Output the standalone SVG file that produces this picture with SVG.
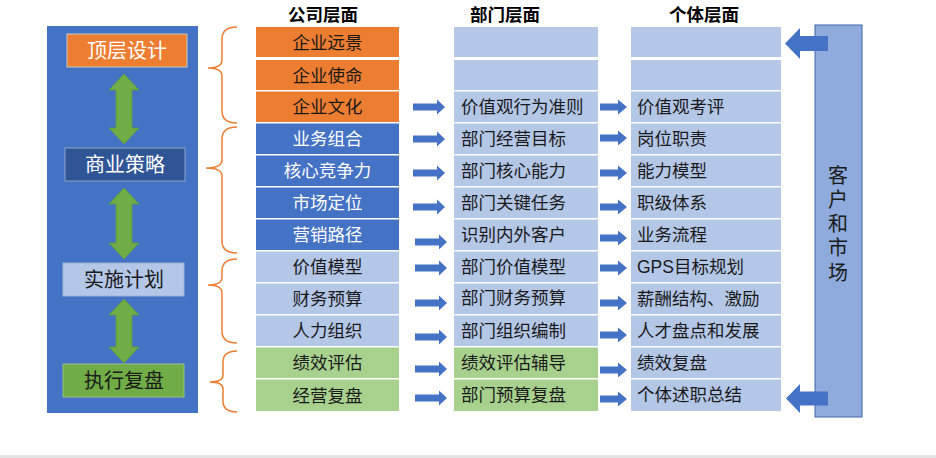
<svg xmlns="http://www.w3.org/2000/svg" xmlns:xlink="http://www.w3.org/1999/xlink" width="936" height="458" viewBox="0 0 936 458">
<style>
text{font-family:"Liberation Sans","Noto Sans CJK SC",sans-serif;}
.t{font-size:17.5px;fill:#1a1a1a;}
.tw{font-size:17.5px;fill:#ffffff;}
.c{text-anchor:middle;}
.h{font-size:17.5px;font-weight:bold;fill:#000;text-anchor:middle;}
.L{font-size:20px;text-anchor:middle;}
.or{fill:#ED7D31;}
.bl{fill:#4472C4;}
.lb{fill:#B4C7E7;}
.gr{fill:#A9D18E;}
.brace{fill:none;stroke:#ED7D31;stroke-width:1.5;}
.ga{fill:#70AD47;stroke:#5E9A3A;stroke-width:0.8;}
.ba{fill:#4472C4;}
</style>
<defs>
<path id="a1" d="M0 -3.5 H24 V-7.5 L32 0 L24 7.5 V3.5 H0 Z"/>
<path id="a2" d="M0 -3.5 H18 V-7.5 L27 0 L18 7.5 V3.5 H0 Z"/>
</defs>
<rect x="0" y="455" width="936" height="3" fill="#E3E3E3"/>

<g id="left-panel">
<rect x="47" y="26" width="151" height="387" fill="#4472C4"/>
</g>
<g id="stage-arrows">
<path class="ga" d="M124 74 L139 90 L132 90 L132 128 L139 128 L124 144 L109 128 L116 128 L116 90 L109 90 Z"/>
<path class="ga" d="M124 188 L139 204 L132 204 L132 243 L139 243 L124 259 L109 243 L116 243 L116 204 L109 204 Z"/>
<path class="ga" d="M124 299 L139 315 L132 315 L132 347 L139 347 L124 363 L109 347 L116 347 L116 315 L109 315 Z"/>
</g>
<g id="stage-top">
<rect x="67" y="34" width="120" height="33" fill="#ED7D31" stroke="#C9C9C9" stroke-width="1"/>
<text class="L" x="127" y="58" fill="#fff">顶层设计</text>
</g>
<g id="stage-strategy">
<rect x="65" y="148" width="120" height="33" fill="#2F5597" stroke="#8FA3C8" stroke-width="1"/>
<text class="L" x="125" y="172" fill="#fff">商业策略</text>
</g>
<g id="stage-plan">
<rect x="63" y="263" width="121" height="33" fill="#B4C7E7" stroke="#9FB2D4" stroke-width="1"/>
<text class="L" x="124" y="287" fill="#1a1a1a">实施计划</text>
</g>
<g id="stage-exec">
<rect x="63" y="364" width="121" height="33" fill="#70AD47" stroke="#9DBF86" stroke-width="1"/>
<text class="L" x="124" y="388" fill="#1a1a1a">执行复盘</text>
</g>

<g id="braces">
<path class="brace" d="M237 27 Q222 27 222 39 L222 60 Q222 68 208 68 Q222 68 222 76 L222 111 Q222 123 237 123"/>
<path class="brace" d="M237 127 Q222 127 222 139 L222 160 Q222 168 206 168 Q222 168 222 176 L222 241 Q222 253 237 253"/>
<path class="brace" d="M237 259 Q222 259 222 271 L222 277 Q222 285 208 285 Q222 285 222 293 L222 331 Q222 343 237 343"/>
<path class="brace" d="M237 351 Q223 351 223 362 L223 375 Q223 382 210 382 Q223 382 223 389 L223 401 Q223 412 237 412"/>
</g>

<g id="headers">
<text class="h" x="323" y="21">公司层面</text>
<text class="h" x="505" y="21">部门层面</text>
<text class="h" x="704" y="21">个体层面</text>
</g>

<g id="company">
<g id="c0"><rect class="or" x="256" y="27" width="143" height="30"/><text class="t c" x="327.5" y="48.5">企业远景</text></g>
<g id="c1"><rect class="or" x="256" y="60" width="143" height="30"/><text class="t c" x="327.5" y="81.5">企业使命</text></g>
<g id="c2"><rect class="or" x="256" y="91.5" width="143" height="30.5"/><text class="t c" x="327.5" y="113.3">企业文化</text></g>
<g id="c3"><rect class="bl" x="256" y="123.5" width="143" height="30.5"/><text class="tw c" x="327.5" y="145.3">业务组合</text></g>
<g id="c4"><rect class="bl" x="256" y="155.5" width="143" height="30.5"/><text class="tw c" x="327.5" y="177.3">核心竞争力</text></g>
<g id="c5"><rect class="bl" x="256" y="187.5" width="143" height="30.5"/><text class="tw c" x="327.5" y="209.3">市场定位</text></g>
<g id="c6"><rect class="bl" x="256" y="219.5" width="143" height="30.5"/><text class="tw c" x="327.5" y="241.3">营销路径</text></g>
<g id="c7"><rect class="lb" x="256" y="251.5" width="143" height="30.5"/><text class="t c" x="327.5" y="273.3">价值模型</text></g>
<g id="c8"><rect class="lb" x="256" y="283.5" width="143" height="30.5"/><text class="t c" x="327.5" y="305.3">财务预算</text></g>
<g id="c9"><rect class="lb" x="256" y="315.5" width="143" height="30.5"/><text class="t c" x="327.5" y="337.3">人力组织</text></g>
<g id="c10"><rect class="gr" x="256" y="347.5" width="143" height="30.5"/><text class="t c" x="327.5" y="369.3">绩效评估</text></g>
<g id="c11"><rect class="gr" x="256" y="379.5" width="143" height="31.5"/><text class="t c" x="327.5" y="401.8">经营复盘</text></g>
</g>

<g id="department">
<g id="d0"><rect class="lb" x="454" y="27" width="144" height="30"/></g>
<g id="d1"><rect class="lb" x="454" y="60" width="144" height="30"/></g>
<g id="d2"><rect class="lb" x="454" y="91.5" width="144" height="30.5"/><text class="t" x="461" y="113.3">价值观行为准则</text></g>
<g id="d3"><rect class="lb" x="454" y="123.5" width="144" height="30.5"/><text class="t" x="461" y="145.3">部门经营目标</text></g>
<g id="d4"><rect class="lb" x="454" y="155.5" width="144" height="30.5"/><text class="t" x="461" y="177.3">部门核心能力</text></g>
<g id="d5"><rect class="lb" x="454" y="187.5" width="144" height="30.5"/><text class="t" x="461" y="209.3">部门关键任务</text></g>
<g id="d6"><rect class="lb" x="454" y="219.5" width="144" height="30.5"/><text class="t" x="461" y="240.5">识别内外客户</text></g>
<g id="d7"><rect class="lb" x="454" y="251.5" width="144" height="30.5"/><text class="t" x="461" y="273.3">部门价值模型</text></g>
<g id="d8"><rect class="lb" x="454" y="283.5" width="144" height="30.5"/><text class="t" x="461" y="303.5">部门财务预算</text></g>
<g id="d9"><rect class="lb" x="454" y="315.5" width="144" height="30.5"/><text class="t" x="461" y="337.3">部门组织编制</text></g>
<g id="d10"><rect class="gr" x="454" y="347.5" width="144" height="30.5"/><text class="t" x="461" y="368.5">绩效评估辅导</text></g>
<g id="d11"><rect class="gr" x="454" y="379.5" width="144" height="31.5"/><text class="t" x="461" y="400.5">部门预算复盘</text></g>
</g>

<g id="individual">
<g id="i0"><rect class="lb" x="631" y="27" width="150" height="30"/></g>
<g id="i1"><rect class="lb" x="631" y="60" width="150" height="30"/></g>
<g id="i2"><rect class="lb" x="631" y="91.5" width="150" height="30.5"/><text class="t" x="637" y="113.3">价值观考评</text></g>
<g id="i3"><rect class="lb" x="631" y="123.5" width="150" height="30.5"/><text class="t" x="637" y="145.3">岗位职责</text></g>
<g id="i4"><rect class="lb" x="631" y="155.5" width="150" height="30.5"/><text class="t" x="637" y="177.3">能力模型</text></g>
<g id="i5"><rect class="lb" x="631" y="187.5" width="150" height="30.5"/><text class="t" x="637" y="209.3">职级体系</text></g>
<g id="i6"><rect class="lb" x="631" y="219.5" width="150" height="30.5"/><text class="t" x="637" y="241.3">业务流程</text></g>
<g id="i7"><rect class="lb" x="631" y="251.5" width="150" height="30.5"/><text class="t" x="637" y="273.3">GPS目标规划</text></g>
<g id="i8"><rect class="lb" x="631" y="283.5" width="150" height="30.5"/><text class="t" x="637" y="304.5">薪酬结构、激励</text></g>
<g id="i9"><rect class="lb" x="631" y="315.5" width="150" height="30.5"/><text class="t" x="637" y="337.3">人才盘点和发展</text></g>
<g id="i10"><rect class="lb" x="631" y="347.5" width="150" height="30.5"/><text class="t" x="637" y="368.5">绩效复盘</text></g>
<g id="i11"><rect class="lb" x="631" y="379.5" width="150" height="31.5"/><text class="t" x="637" y="401">个体述职总结</text></g>
</g>

<g id="market">
<rect x="815" y="25" width="47" height="392" fill="#8FAADC" stroke="#3F64A8" stroke-width="1"/>
<text class="L" fill="#1a1a1a"><tspan x="838" y="182.5">客</tspan><tspan x="838" y="206.8">户</tspan><tspan x="838" y="231.1">和</tspan><tspan x="838" y="255.4">市</tspan><tspan x="838" y="279.7">场</tspan></text>
</g>

<g id="connectors">
<g class="ba">
<use xlink:href="#a1" x="413" y="107"/>
<use xlink:href="#a1" x="413" y="139"/>
<use xlink:href="#a1" x="413" y="173"/>
<use xlink:href="#a1" x="413" y="207"/>
<use xlink:href="#a1" x="415" y="242"/>
<use xlink:href="#a1" x="415" y="268"/>
<use xlink:href="#a1" x="415" y="303"/>
<use xlink:href="#a1" x="415" y="337"/>
<use xlink:href="#a1" x="415" y="369"/>
<use xlink:href="#a1" x="415" y="398"/>
<use xlink:href="#a2" x="600" y="107"/>
<use xlink:href="#a2" x="600" y="138"/>
<use xlink:href="#a2" x="600" y="173"/>
<use xlink:href="#a2" x="600" y="207"/>
<use xlink:href="#a2" x="600" y="238"/>
<use xlink:href="#a2" x="600" y="268"/>
<use xlink:href="#a2" x="600" y="303"/>
<use xlink:href="#a2" x="600" y="335"/>
<use xlink:href="#a2" x="600" y="370"/>
<use xlink:href="#a2" x="600" y="399"/>
<path d="M785 43.5 L800 28 L800 36 L828 36 L828 51 L800 51 L800 59 Z"/>
<path d="M786 398.5 L800 384 L800 391.5 L828 391.5 L828 405.5 L800 405.5 L800 413 Z"/>
</g>
</g>
</svg>
